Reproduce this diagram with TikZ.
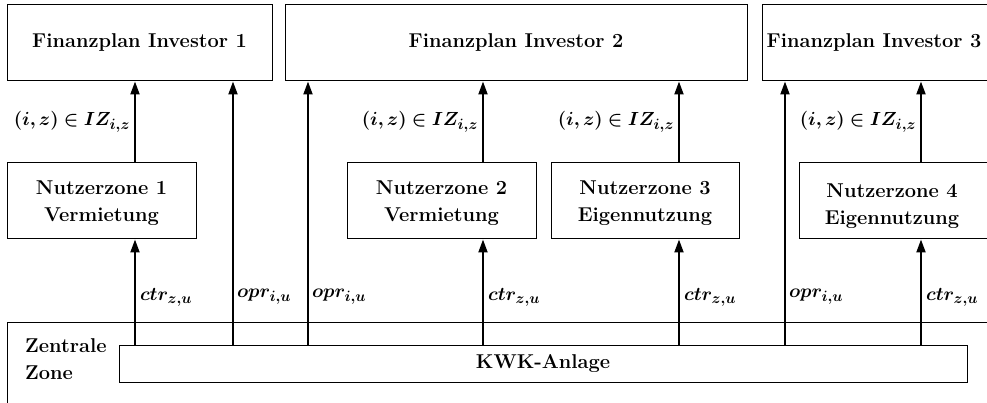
\RequirePackage{fix-cm}
\documentclass[tikz,border=0pt]{standalone}
\usepackage{bm}
\DeclareMathSizes{19}{19}{15}{12}
\usetikzlibrary{arrows.meta}
\begin{document}
\begin{tikzpicture}[x=1pt,y=-1pt,
  box/.style={draw, line width=1pt, inner sep=0pt, align=center,
    font=\fontsize{20}{27}\selectfont\bfseries},
  nzbox/.style={box, minimum height=76, text depth=-3pt},
  btxt/.style={inner sep=0pt, align=center, font=\fontsize{20}{27}\selectfont\bfseries},
  arr/.style={line width=2pt, -{Triangle[length=13pt,width=9pt]}},
  lab/.style={inner sep=0pt, font=\fontsize{19}{22}\selectfont}
]
\useasboundingbox (0,0) rectangle (987,403);
\clip (0,0) rectangle (987,403);
% top boxes
\node[box, minimum width=265, minimum height=76] (inv1) at (139.5,43) {Finanzplan Investor 1};
\node[box, minimum width=462, minimum height=76] (inv2) at (516,43) {Finanzplan Investor 2};
\node[box, minimum width=400, minimum height=76] (inv3box) at (962,43) {};
\node[btxt] (inv3) at (874,43) {Finanzplan Investor 3};
% user zones
\node[nzbox, minimum width=189] (nz1) at (101.5,201) {Nutzerzone 1\\Vermietung};
\node[nzbox, minimum width=189] (nz2) at (441.5,201) {Nutzerzone 2\\Vermietung};
\node[nzbox, minimum width=188] (nz3) at (645,201) {Nutzerzone 3\\Eigennutzung};
\node[box, minimum width=300, minimum height=76] (nz4box) at (949,201) {};
\node[btxt] (nz4) at (892,206) {Nutzerzone 4\\Eigennutzung};
% central zone
\node[box, minimum width=1200, minimum height=150] (zz) at (607,397) {};
\node[btxt, align=left, anchor=west] (zztxt) at (25,359) {Zentrale\\Zone};
\node[box, minimum width=848, minimum height=37] (kwk) at (543,363.5) {KWK-Anlage};
% x positions
\coordinate (a1) at (135,0);
\coordinate (a2) at (233,0);
\coordinate (a3) at (308,0);
\coordinate (a4) at (483,0);
\coordinate (a5) at (679,0);
\coordinate (a6) at (785,0);
\coordinate (a7) at (921,0);
% arrows
\draw[arr] (kwk.north -| a1) -- (nz1.south -| a1) node[lab, pos=0.45, anchor=west, xshift=4pt] {$\bm{ctr_{z,u}}$};
\draw[arr] (nz1.north -| a1) -- (inv1.south -| a1) node[lab, pos=0.5, anchor=east, xshift=-4pt] {$\bm{(i,z)\in IZ_{i,z}}$};
\draw[arr] (kwk.north -| a2) -- (inv1.south -| a2) node[lab, pos=0.18, anchor=west, xshift=3pt] {$\bm{opr_{i,u}}$};
\draw[arr] (kwk.north -| a3) -- (inv2.south -| a3) node[lab, pos=0.18, anchor=west, xshift=3pt] {$\bm{opr_{i,u}}$};
\draw[arr] (kwk.north -| a4) -- (nz2.south -| a4) node[lab, pos=0.45, anchor=west, xshift=4pt] {$\bm{ctr_{z,u}}$};
\draw[arr] (nz2.north -| a4) -- (inv2.south -| a4) node[lab, pos=0.5, anchor=east, xshift=-4pt] {$\bm{(i,z)\in IZ_{i,z}}$};
\draw[arr] (kwk.north -| a5) -- (nz3.south -| a5) node[lab, pos=0.45, anchor=west, xshift=4pt] {$\bm{ctr_{z,u}}$};
\draw[arr] (nz3.north -| a5) -- (inv2.south -| a5) node[lab, pos=0.5, anchor=east, xshift=-4pt] {$\bm{(i,z)\in IZ_{i,z}}$};
\draw[arr] (kwk.north -| a6) -- (inv3box.south -| a6) node[lab, pos=0.18, anchor=west, xshift=3pt] {$\bm{opr_{i,u}}$};
\draw[arr] (kwk.north -| a7) -- (nz4box.south -| a7) node[lab, pos=0.45, anchor=west, xshift=4pt] {$\bm{ctr_{z,u}}$};
\draw[arr] (nz4box.north -| a7) -- (inv3box.south -| a7) node[lab, pos=0.5, anchor=east, xshift=-4pt] {$\bm{(i,z)\in IZ_{i,z}}$};
\end{tikzpicture}
\end{document}
